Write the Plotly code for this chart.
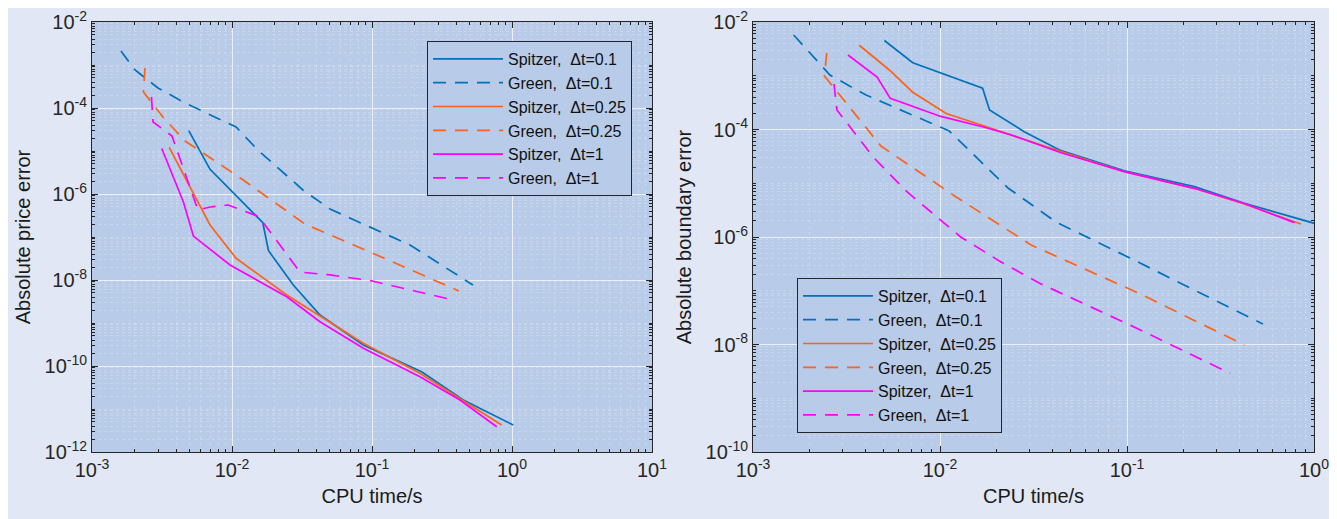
import plotly.graph_objects as go

# ---------------- data (left: price error) ----------------
L_sp01_t = [4.91e-3, 6.97e-3, 1.66e-2, 1.82e-2, 2.74e-2, 4.25e-2, 8.67e-2, 0.226, 0.449, 1.02]
L_sp01_e = [2.97e-5, 3.75e-6, 2.15e-7, 4.85e-8, 7.65e-9, 1.53e-9, 3.08e-10, 7.36e-11, 1.62e-11, 4.25e-12]
L_gr01_t = [1.61e-3, 2.03e-3, 2.96e-3, 4.62e-3, 1.07e-2, 1.53e-2, 3.21e-2, 5.01e-2, 7.2e-2, 0.187, 0.526]
L_gr01_e = [2.12e-3, 7.66e-4, 2.92e-4, 1.31e-4, 3.61e-5, 1.05e-5, 1.24e-6, 4.48e-7, 2.62e-7, 6.52e-8, 7.65e-9]
L_sp025_t = [3.56e-3, 6.97e-3, 1.07e-2, 2.46e-2, 4.25e-2, 8.67e-2, 0.220, 0.425, 0.843]
L_sp025_e = [1.22e-5, 1.90e-7, 3.2e-8, 4.48e-9, 1.46e-9, 3.37e-10, 6.76e-11, 1.77e-11, 4.25e-12]
L_gr025_t = [2.39e-3, 2.33e-3, 3.21e-3, 4.62e-3, 1.1e-2, 3.32e-2, 0.12, 0.418]
L_gr025_e = [8.51e-4, 2.36e-4, 6.18e-5, 1.71e-5, 2.6e-6, 2.0e-7, 3.3e-8, 5.55e-9]
L_sp1_t = [3.15e-3, 4.49e-3, 5.3e-3, 9.68e-3, 2.46e-2, 4.25e-2, 8.67e-2, 0.220, 0.425, 0.778]
L_sp1_e = [1.14e-5, 6.62e-7, 1.05e-7, 2.23e-8, 4.09e-9, 1.07e-9, 2.58e-10, 5.64e-11, 1.62e-11, 3.87e-12]
L_gr1_t = [2.66e-3, 2.73e-3, 3.73e-3, 5.71e-3, 6.97e-3, 9.36e-3, 1.55e-2, 3.06e-2, 5.01e-2, 9.68e-2, 0.343]
L_gr1_e = [1.80e-4, 4.72e-5, 2.23e-5, 4.25e-7, 4.99e-7, 5.55e-7, 3.0e-7, 1.53e-8, 1.31e-8, 9.73e-9, 3.71e-9]

# ---------------- data (right: boundary error) ----------------
R_sp01_t = [5.04e-3, 7.15e-3, 1.69e-2, 1.84e-2, 2.82e-2, 4.44e-2, 9.68e-2, 0.229, 0.424, 1.03]
R_sp01_e = [4.53e-3, 1.75e-3, 5.85e-4, 2.31e-4, 9.1e-5, 4.04e-5, 1.71e-5, 8.63e-6, 4.24e-6, 1.75e-6]
R_gr01_t = [1.65e-3, 2.58e-3, 4.02e-3, 6.58e-3, 1.12e-2, 2.31e-2, 4.17e-2, 0.101, 0.22, 0.533]
R_gr01_e = [5.73e-3, 1.03e-3, 4.38e-4, 2.12e-4, 9.38e-5, 8.17e-6, 1.90e-6, 4.25e-7, 1.12e-7, 2.40e-8]
R_sp025_t = [3.70e-3, 5.36e-3, 7.15e-3, 1.08e-2, 1.95e-2, 4.44e-2, 9.68e-2, 0.229, 0.424, 0.851]
R_sp025_e = [3.69e-3, 1.28e-3, 4.94e-4, 1.99e-4, 1.01e-4, 3.87e-5, 1.64e-5, 8.05e-6, 4.11e-6, 1.75e-6]
R_gr025_t = [2.48e-3, 2.41e-3, 4.83e-3, 1.22e-2, 3.07e-2, 0.115, 0.424]
R_gr025_e = [2.65e-3, 9.89e-4, 4.93e-5, 5.55e-6, 7.10e-7, 9.08e-8, 9.8e-9]
R_sp1_t = [3.22e-3, 4.61e-3, 5.42e-3, 1.01e-2, 1.73e-2, 2.40e-2, 4.44e-2, 9.68e-2, 0.229, 0.424, 0.785]
R_sp1_e = [2.43e-3, 9.48e-4, 3.80e-4, 1.75e-4, 1.10e-4, 7.91e-5, 3.70e-5, 1.64e-5, 8.05e-6, 4.2e-6, 1.85e-6]
R_gr1_t = [2.71e-3, 2.81e-3, 4.39e-3, 6.58e-3, 1.29e-2, 2.12e-2, 3.47e-2, 0.112, 0.356]
R_gr1_e = [7.03e-4, 2.31e-4, 3.08e-5, 7.18e-6, 1.0e-6, 3.43e-7, 1.34e-7, 2.03e-8, 2.91e-9]

labels = ["Spitzer,  \u0394t=0.1", "Green,  \u0394t=0.1", "Spitzer,  \u0394t=0.25",
          "Green,  \u0394t=0.25", "Spitzer,  \u0394t=1", "Green,  \u0394t=1"]

BLUE = "#0072BD"
ORANGE = "#FF6218"
MAGENTA = "#FF00FF"
colors = [BLUE, BLUE, ORANGE, ORANGE, MAGENTA, MAGENTA]
DASH = "13px,9px"
dashes = ["solid", DASH] * 3

left_series = [(L_sp01_t, L_sp01_e), (L_gr01_t, L_gr01_e), (L_sp025_t, L_sp025_e),
               (L_gr025_t, L_gr025_e), (L_sp1_t, L_sp1_e), (L_gr1_t, L_gr1_e)]
right_series = [(R_sp01_t, R_sp01_e), (R_gr01_t, R_gr01_e), (R_sp025_t, R_sp025_e),
                (R_gr025_t, R_gr025_e), (R_sp1_t, R_sp1_e), (R_gr1_t, R_gr1_e)]

FONT = "Liberation Sans, Arial, sans-serif"
PLOT_BG = "#b8cbe8"
PAPER_BG = "#e1e7f4"
AXC = "#262626"

fig = go.Figure()
for i, (t, e) in enumerate(left_series):
    fig.add_trace(go.Scatter(x=t, y=e, mode="lines", name=labels[i],
                             line=dict(color=colors[i], width=1.7, dash=dashes[i]),
                             xaxis="x", yaxis="y", legend="legend"))
for i, (t, e) in enumerate(right_series):
    fig.add_trace(go.Scatter(x=t, y=e, mode="lines", name=labels[i],
                             line=dict(color=colors[i], width=1.7, dash=dashes[i]),
                             xaxis="x2", yaxis="y2", legend="legend2"))


def sup_labels(exps):
    return ["10<sup>%d</sup>" % k for k in exps]


def minor_vals(lo, hi, majors):
    v = []
    for d in range(lo, hi):
        for k in range(2, 10):
            v.append(k * 10.0 ** d)
    v += [10.0 ** k for k in range(lo, hi + 1) if k not in majors]
    return v


def axis(lo, hi, domain, anchor, title, major_vals, standoff):
    return dict(
        type="log", range=[lo, hi], domain=domain, anchor=anchor, automargin=False,
        tickmode="array", tickvals=[10.0 ** k for k in major_vals],
        ticktext=sup_labels(major_vals), ticklabeloverflow="allow",
        ticks="inside", ticklen=6, tickwidth=1, tickcolor=AXC,
        showline=True, linecolor=AXC, linewidth=1, mirror="ticks",
        showgrid=True, gridcolor="rgba(245,245,250,0.85)", gridwidth=1,
        zeroline=False,
        minor=dict(tickmode="array", tickvals=minor_vals(lo, hi, major_vals),
                   ticks="inside", ticklen=3, tickcolor=AXC,
                   showgrid=True, gridcolor="rgba(255,255,255,0.22)", griddash="dot", gridwidth=1),
        tickfont=dict(family=FONT, size=20, color=AXC),
        title=dict(text=title, font=dict(family=FONT, size=20, color="#1a1a1a"), standoff=standoff),
    )


OFF = 8  # page offset of the figure inside the browser
W = 1337
d1 = [(92 - OFF) / W, (652 - OFF) / W]
d2 = [(753 - OFF) / W, (1314 - OFF) / W]

legend_common = dict(bgcolor=PLOT_BG, bordercolor=AXC, borderwidth=1,
                     font=dict(family=FONT, size=16, color="#111"),
                     tracegroupgap=0, itemwidth=70)

fig.update_layout(
    width=1337, height=519,
    margin=dict(l=0, r=0, t=22 - OFF, b=67 + OFF),
    paper_bgcolor=PAPER_BG, plot_bgcolor=PLOT_BG,
    showlegend=True,
    xaxis=axis(-3, 1, d1, "y", "CPU time/s", [-3, -2, -1, 0, 1], 8),
    yaxis=axis(-12, -2, [0, 1], "x", "Absolute price error", [-12, -10, -8, -6, -4, -2], 8),
    xaxis2=axis(-3, 0, d2, "y2", "CPU time/s", [-3, -2, -1, 0], 8),
    yaxis2=axis(-10, -2, [0, 1], "x2", "Absolute boundary error", [-10, -8, -6, -4, -2], 8),
    legend=dict(x=(632 - OFF) / W, y=(452 - 41) / 430, xanchor="right", yanchor="top", **legend_common),
    legend2=dict(x=(797 - OFF) / W, y=(452 - 433) / 430, xanchor="left", yanchor="bottom", **legend_common),
)

fig.write_html("out.html")
